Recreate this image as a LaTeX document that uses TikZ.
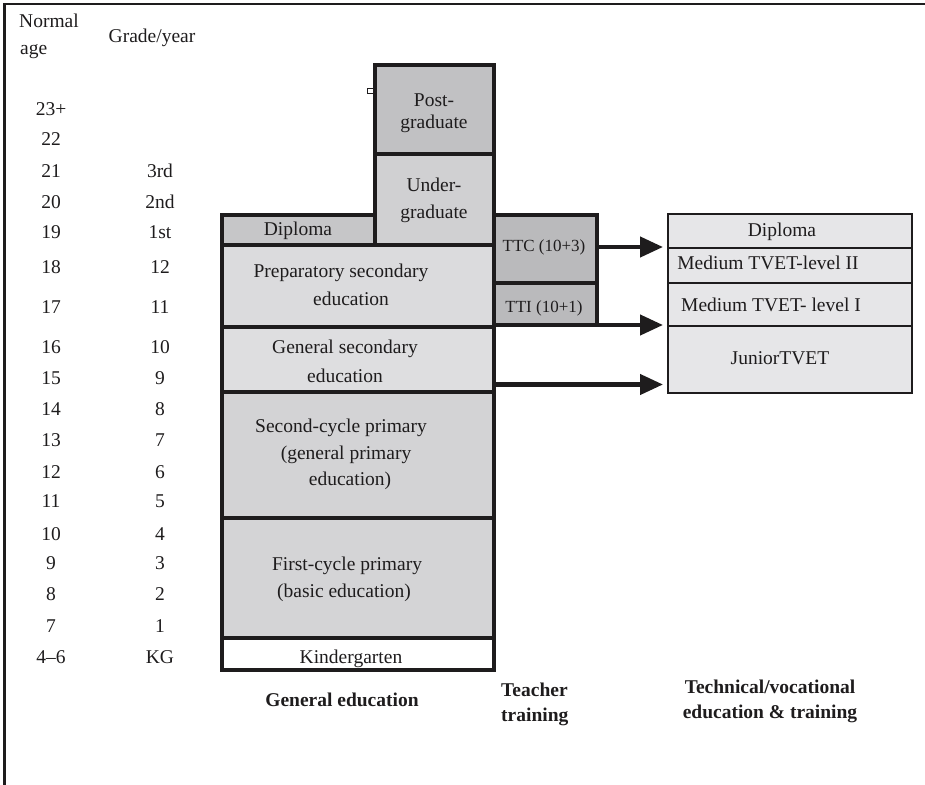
\documentclass[tikz,border=0pt]{standalone}
\usepackage{fontspec}
\setmainfont{Liberation Serif}
\usetikzlibrary{arrows.meta}
\definecolor{cpg}{RGB}{193,193,195}
\definecolor{cug}{RGB}{208,208,210}
\definecolor{cdip}{RGB}{198,198,200}
\definecolor{cprep}{RGB}{219,219,221}
\definecolor{cgsec}{RGB}{222,222,224}
\definecolor{csec}{RGB}{211,211,213}
\definecolor{cfst}{RGB}{212,212,214}
\definecolor{ctt}{RGB}{186,186,188}
\definecolor{ctv}{RGB}{230,230,232}
\definecolor{ink}{RGB}{30,28,29}
\begin{document}
\begin{tikzpicture}[x=1pt,y=-1pt,
  bx/.style={draw=ink, line width=4.5pt, inner sep=0pt, outer sep=0pt, rectangle},
  tvb/.style={draw=ink, line width=1.4pt, fill=ctv, inner sep=0pt, outer sep=0pt, rectangle, minimum width=244pt},
  tx/.style={font=\fontsize{19.5}{23}\selectfont, inner sep=0pt, anchor=base, text=ink},
  txs/.style={font=\fontsize{17}{20}\selectfont, inner sep=0pt, anchor=base, text=ink},
  txb/.style={font=\fontsize{19.5}{23}\selectfont\bfseries, inner sep=0pt, anchor=base, text=ink},
  arr/.style={draw=ink, line width=4.3pt, -{Triangle[length=23pt,width=20pt]}, shorten >=5pt}]
\useasboundingbox (0,0) rectangle (925,784);
% outer frame (top and left edges)
\draw[ink, line width=2.3pt] (4.5,790) -- (4.5,3.7) -- (930,3.7);

% column headings
\node[tx, anchor=base west] (hnorm) at (19,28) {Normal};
\node[tx, anchor=base west] (hage) at (20,55) {age};
\node[tx] (hgrade) at (152,42) {Grade/year};

% ages
\foreach \t/\y [count=\i] in {23+/109,22/139,21/171,20/202,19/232,18/267,17/307,16/347,15/378,14/409,13/440,12/472,11/501,10/534,9/563,8/594,7/626,4--6/657}
  \node[tx] (age\i) at (51,\y+6.5) {\t};
% grades
\foreach \t/\y [count=\i] in {3rd/171,2nd/202,1st/232,12/267,11/307,10/347,9/378,8/409,7/440,6/472,5/501,4/534,3/563,2/594,1/626,KG/657}
  \node[tx] (gr\i) at (160,\y+6.5) {\t};

% university column
\node[bx, fill=cpg, minimum width=119pt, minimum height=89pt] (post) at (434.5,109.5) {};
\node[bx, fill=cug, minimum width=119pt, minimum height=91pt] (under) at (434.5,199.5) {};
% general education column
\node[bx, fill=cdip, minimum width=153pt, minimum height=30pt] (dipg) at (298.5,230) {};
\node[bx, fill=cprep, minimum width=272pt, minimum height=82pt] (prep) at (358,286) {};
\node[bx, fill=cgsec, minimum width=272pt, minimum height=65pt] (gsec) at (358,359.5) {};
\node[bx, fill=csec, minimum width=272pt, minimum height=126pt] (sec) at (358,455) {};
\node[bx, fill=cfst, minimum width=272pt, minimum height=120pt] (fst) at (358,578) {};
\node[bx, fill=white, minimum width=272pt, minimum height=32pt] (kg) at (358,654) {};
% teacher training
\node[bx, fill=ctt, minimum width=103pt, minimum height=68pt] (ttc) at (545.5,249) {};
\node[bx, fill=ctt, minimum width=103pt, minimum height=42pt] (tti) at (545.5,304) {};
% TVET column
\node[tvb, minimum height=34pt] (tvdip) at (790,231) {};
\node[tvb, minimum height=35pt] (tvm2) at (790,265.5) {};
\node[tvb, minimum height=43pt] (tvm1) at (790,304.5) {};
\node[tvb, minimum height=67pt] (tvjr) at (790,359.5) {};

% small notch on the post-graduate border
\draw[ink, line width=0.8pt, fill=white] (367.5,88.5) rectangle (373.5,93.5);

% texts in boxes
\node[tx] (tpost1) at (434,106) {Post-};
\node[tx] (tpost2) at (434,128) {graduate};
\node[tx] (tund1) at (434,191) {Under-};
\node[tx] (tund2) at (434,218) {graduate};
\node[tx] (tdipg) at (298,235) {Diploma};
\node[tx] (tprep1) at (341,277) {Preparatory secondary};
\node[tx] (tprep2) at (351,305) {education};
\node[tx] (tgsec1) at (345,353) {General secondary};
\node[tx] (tgsec2) at (345,382) {education};
\node[tx] (tsec1) at (341,432) {Second-cycle primary};
\node[tx] (tsec2) at (346,459) {(general primary};
\node[tx] (tsec3) at (350,485) {education)};
\node[tx] (tfst1) at (347,570) {First-cycle primary};
\node[tx] (tfst2) at (344,597) {(basic education)};
\node[tx] (tkg) at (351,663) {Kindergarten};
\node[txs] (tttc) at (544,251) {TTC (10+3)};
\node[txs] (ttti) at (544,312) {TTI (10+1)};
\node[tx] (ttvdip) at (782,236) {Diploma};
\node[tx] (ttvm2) at (768,269) {Medium TVET-level II};
\node[tx] (ttvm1) at (771,311) {Medium TVET- level I};
\node[tx] (ttvjr) at (780,364) {JuniorTVET};

% arrows
\draw[arr] ([yshift=2pt]ttc.east) -- ([yshift=2pt]ttc.east -| tvdip.west);
\draw[arr] (tti.south east) -- (tti.south east -| tvjr.west);
\draw[arr] ([yshift=-25pt]gsec.east) -- ([yshift=-25pt]gsec.east -| tvjr.west);

% column labels
\node[txb] (lgen) at (342,706) {General education};
\node[txb, anchor=base west] (lteach1) at (501,696) {Teacher};
\node[txb, anchor=base west] (lteach2) at (501,721) {training};
\node[txb] (ltv1) at (770,693) {Technical/vocational};
\node[txb] (ltv2) at (770,718) {education \& training};
\end{tikzpicture}
\end{document}
